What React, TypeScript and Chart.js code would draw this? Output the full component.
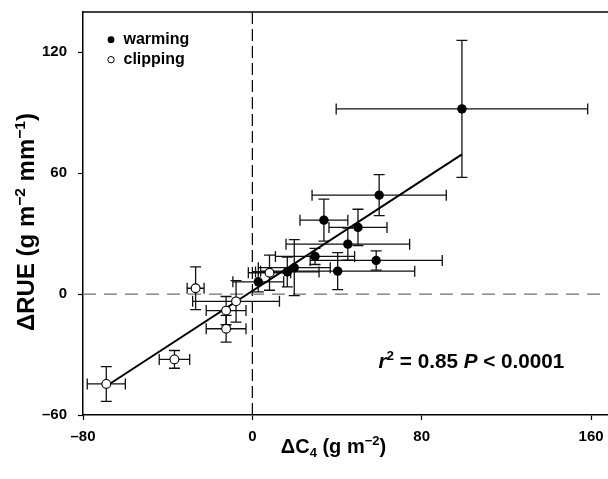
import React, { useEffect, useRef } from "react";
import { Chart, registerables } from "chart.js";

Chart.register(...registerables);

const FONT = "'Liberation Sans', Arial, Helvetica, sans-serif";

// Warming (filled circles)
const warmingX = [99.0, 59.9, 33.8, 49.9, 45.1, 29.6, 58.5, 40.3, 19.8, 16.5, 2.8];
const warmingY = [91.9, 49.1, 36.7, 33.1, 24.8, 18.7, 16.7, 11.4, 13.1, 11.0, 6.1];
const warmingXErr = [59.4, 31.7, 11.3, 13.7, 29.2, 18.7, 31.2, 36.4, 17.0, 15.0, 12.0];
const warmingYErr = [34.0, 10.2, 10.4, 9.0, 8.0, 4.0, 4.8, 9.2, 13.9, 7.4, 5.0];

// Clipping (open circles)
const clippingX = [-69.0, -36.8, -26.8, -12.4, -7.7, -12.4, 8.1];
const clippingY = [-44.6, -32.4, 2.9, -8.2, -3.6, -17.2, 10.6];
const clippingXErr = [9.0, 7.2, 4.0, 9.4, 20.5, 9.4, 10.0];
const clippingYErr = [8.6, 4.4, 10.6, 7.0, 10.3, 6.6, 8.7];

// Regression line
const fitX = [-68, 99];
const fitY = [-45, 69.3];

const xTicks = [-80, 0, 80, 160];
const yTicks = [-60, 0, 60, 120];
const xMin = -80;
const xMax = 168;
const yMin = -60;
const yMax = 140;

type Seg = { t: string; size: number; italic?: boolean; dy?: number };

function drawRich(ctx: CanvasRenderingContext2D, segs: Seg[], x: number, y: number, align: "left" | "center") {
  const widths = segs.map((s) => {
    ctx.font = `${s.italic ? "italic " : ""}bold ${s.size}px ${FONT}`;
    return ctx.measureText(s.t).width;
  });
  const total = widths.reduce((a, b) => a + b, 0);
  let cx = align === "center" ? x - total / 2 : x;
  ctx.textAlign = "left";
  ctx.textBaseline = "alphabetic";
  segs.forEach((s, i) => {
    ctx.font = `${s.italic ? "italic " : ""}bold ${s.size}px ${FONT}`;
    ctx.fillText(s.t, cx, y + (s.dy || 0));
    cx += widths[i];
  });
}

const decorPlugin = {
  id: "decor",
  beforeDatasetsDraw(chart: any) {
    const { ctx, chartArea: a, scales } = chart;
    const xs = scales.x;
    const ys = scales.y;
    ctx.save();
    // reference dashed lines
    const x0 = xs.getPixelForValue(0);
    ctx.strokeStyle = "#000";
    ctx.lineWidth = 1.2;
    ctx.setLineDash([12, 5]);
    ctx.beginPath();
    ctx.moveTo(x0, a.top);
    ctx.lineTo(x0, a.bottom);
    ctx.stroke();
    const y0 = ys.getPixelForValue(0);
    ctx.strokeStyle = "#707070";
    ctx.setLineDash([13, 8]);
    ctx.beginPath();
    ctx.moveTo(a.left, y0);
    ctx.lineTo(a.right, y0);
    ctx.stroke();
    ctx.setLineDash([]);
    // error bars
    const cap = 5.5;
    ctx.strokeStyle = "#111";
    ctx.lineWidth = 1.3;
    chart.data.datasets.forEach((ds: any) => {
      if (!ds.xErr) return;
      ds.data.forEach((p: any, i: number) => {
        const px = xs.getPixelForValue(p.x);
        const py = ys.getPixelForValue(p.y);
        const xl = xs.getPixelForValue(p.x - ds.xErr[i]);
        const xr = xs.getPixelForValue(p.x + ds.xErr[i]);
        const yt = ys.getPixelForValue(p.y + ds.yErr[i]);
        const yb = ys.getPixelForValue(p.y - ds.yErr[i]);
        ctx.beginPath();
        ctx.moveTo(xl, py);
        ctx.lineTo(xr, py);
        ctx.moveTo(xl, py - cap);
        ctx.lineTo(xl, py + cap);
        ctx.moveTo(xr, py - cap);
        ctx.lineTo(xr, py + cap);
        ctx.moveTo(px, yt);
        ctx.lineTo(px, yb);
        ctx.moveTo(px - cap, yt);
        ctx.lineTo(px + cap, yt);
        ctx.moveTo(px - cap, yb);
        ctx.lineTo(px + cap, yb);
        ctx.stroke();
      });
    });
    ctx.restore();
  },
  afterDraw(chart: any) {
    const { ctx, chartArea: a } = chart;
    ctx.save();
    // top frame line
    ctx.strokeStyle = "#000";
    ctx.lineWidth = 1.5;
    ctx.beginPath();
    ctx.moveTo(a.left, a.top);
    ctx.lineTo(a.right, a.top);
    ctx.stroke();
    ctx.fillStyle = "#000";
    // legend
    const lx = a.left + 28;
    ctx.beginPath();
    ctx.arc(lx, 39.7, 3.4, 0, Math.PI * 2);
    ctx.fill();
    ctx.beginPath();
    ctx.arc(lx, 59.7, 3.2, 0, Math.PI * 2);
    ctx.fillStyle = "#fff";
    ctx.fill();
    ctx.strokeStyle = "#000";
    ctx.lineWidth = 1;
    ctx.stroke();
    ctx.fillStyle = "#000";
    drawRich(ctx, [{ t: "warming", size: 16 }], a.left + 40.5, 43.8, "left");
    drawRich(ctx, [{ t: "clipping", size: 16 }], a.left + 40.5, 64.2, "left");
    // annotation
    drawRich(
      ctx,
      [
        { t: "r", size: 20.7, italic: true },
        { t: "2", size: 13.5, dy: -8 },
        { t: " = 0.85 ", size: 20.7 },
        { t: "P", size: 20.7, italic: true },
        { t: " < 0.0001", size: 20.7 },
      ],
      378.5,
      368.3,
      "left"
    );
    // x axis title
    drawRich(
      ctx,
      [
        { t: "ΔC", size: 20 },
        { t: "4", size: 13, dy: 4 },
        { t: " (g m", size: 20 },
        { t: "−2", size: 13, dy: -8 },
        { t: ")", size: 20 },
      ],
      333.5,
      453.3,
      "center"
    );
    // y axis title
    ctx.translate(34.2, 222);
    ctx.rotate(-Math.PI / 2);
    drawRich(
      ctx,
      [
        { t: "ΔRUE (g m", size: 24 },
        { t: "−2", size: 15.5, dy: -9.5 },
        { t: " mm", size: 24 },
        { t: "−1", size: 15.5, dy: -9.5 },
        { t: ")", size: 24 },
      ],
      0,
      0,
      "center"
    );
    ctx.restore();
  },
};

const fmt = (v: any) => String(v).replace("-", "–");

export default function App() {
  const ref = useRef<HTMLCanvasElement | null>(null);
  useEffect(() => {
    if (!ref.current) return;
    const chart = new Chart(ref.current, {
      type: "scatter",
      data: {
        datasets: [
          {
            label: "warming",
            data: warmingX.map((x, i) => ({ x, y: warmingY[i] })),
            xErr: warmingXErr,
            yErr: warmingYErr,
            pointRadius: 4.7,
            pointBackgroundColor: "#000",
            pointBorderColor: "#000",
            pointBorderWidth: 0,
            order: 1,
          } as any,
          {
            label: "clipping",
            data: clippingX.map((x, i) => ({ x, y: clippingY[i] })),
            xErr: clippingXErr,
            yErr: clippingYErr,
            pointRadius: 4.4,
            pointBackgroundColor: "#fff",
            pointBorderColor: "#000",
            pointBorderWidth: 1.1,
            order: 2,
          } as any,
          {
            type: "line",
            label: "fit",
            data: fitX.map((x, i) => ({ x, y: fitY[i] })),
            borderColor: "#000",
            borderWidth: 2,
            pointRadius: 0,
            fill: false,
            order: 3,
          } as any,
        ],
      },
      options: {
        animation: false,
        responsive: true,
        maintainAspectRatio: false,
        events: [],
        layout: { autoPadding: false, padding: { top: 12, right: 0, left: 0, bottom: 0 } },
        plugins: { legend: { display: false }, tooltip: { enabled: false } },
        scales: {
          x: {
            type: "linear",
            min: xMin,
            max: xMax,
            afterBuildTicks: (s: any) => {
              s.ticks = xTicks.map((v) => ({ value: v }));
            },
            afterFit: (s: any) => {
              s.height = 64;
              s.paddingLeft = 0;
              s.paddingRight = 0;
              s.paddingTop = 0;
              s.paddingBottom = 0;
            },
            border: { display: true, color: "#000", width: 1.5 },
            grid: { drawOnChartArea: false, drawTicks: true, tickLength: 5, tickColor: "#000", tickWidth: 1.2 },
            ticks: {
              callback: fmt,
              color: "#000",
              padding: 8,
              maxRotation: 0,
              autoSkip: false,
              font: { family: FONT, size: 15, weight: "bold" },
            },
          },
          y: {
            type: "linear",
            min: yMin,
            max: yMax,
            afterBuildTicks: (s: any) => {
              s.ticks = yTicks.map((v) => ({ value: v }));
            },
            afterFit: (s: any) => {
              s.width = 83;
              s.paddingLeft = 0;
              s.paddingRight = 0;
              s.paddingTop = 0;
              s.paddingBottom = 0;
            },
            border: { display: true, color: "#000", width: 1.5 },
            grid: { drawOnChartArea: false, drawTicks: true, tickLength: 5, tickColor: "#000", tickWidth: 1.2 },
            ticks: {
              callback: fmt,
              color: "#000",
              padding: 11,
              autoSkip: false,
              font: { family: FONT, size: 15, weight: "bold" },
            },
          },
        },
      } as any,
      plugins: [decorPlugin],
    });
    return () => chart.destroy();
  }, []);
  return (
    <div style={{ position: "absolute", left: 0, top: 0, width: 608, height: 479, background: "#fff" }}>
      <canvas ref={ref} />
    </div>
  );
}
